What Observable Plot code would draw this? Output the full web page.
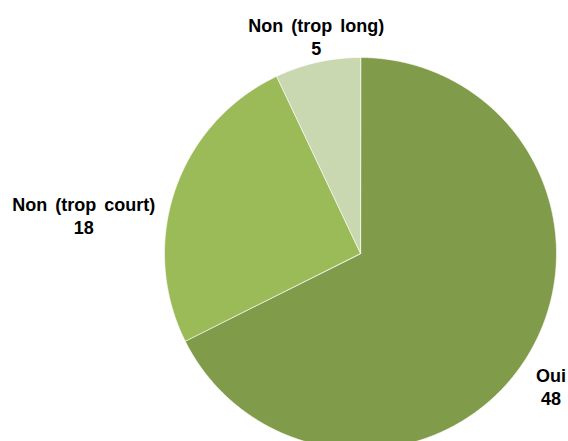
<!DOCTYPE html>
<html>
<head>
<meta charset="utf-8">
<script src="https://cdn.jsdelivr.net/npm/d3@7"></script>
<script src="https://cdn.jsdelivr.net/npm/@observablehq/plot@0.6"></script>
<style>
  html, body { margin: 0; padding: 0; background: #fff; }
  svg text { word-spacing: 3px; }
</style>
</head>
<body>
<div id="chart"></div>
<script>
// Data
const categories = ["Oui", "Non (trop court)", "Non (trop long)"];
const values = [48, 18, 5];
const colors = ["#809c4b", "#9bbb59", "#c9d8b0"];

// Layout (pixels)
const W = 568, H = 441;
const R = 196;            // pie radius in px
const CX = 360, CY = 253; // pie centre in px
const labelRadius = 1.1;  // label anchor at 1.1 × radius
const labelNudge = [[7, 19], [-73, 32], [3, -7]]; // px nudges per label

const rows = categories.map((c, i) => ({label: c, value: values[i]}));
const arcs = d3.pie().sort(null).value(d => d.value)(rows);

// Polygon points for each slice (radius = 1 unit)
const pts = [];
for (const a of arcs) {
  const n = Math.max(2, Math.ceil((a.endAngle - a.startAngle) / (Math.PI / 360)));
  pts.push({label: a.data.label, x: 0, y: 0});
  for (let k = 0; k <= n; k++) {
    const t = a.startAngle + (a.endAngle - a.startAngle) * k / n;
    pts.push({label: a.data.label, x: Math.sin(t), y: Math.cos(t)});
  }
}

const labels = arcs.map((a, i) => {
  const t = (a.startAngle + a.endAngle) / 2;
  return {
    x: labelRadius * Math.sin(t), y: labelRadius * Math.cos(t),
    text: `${a.data.label}\n${a.data.value}`,
    dx: labelNudge[i][0], dy: labelNudge[i][1]
  };
});

const chart = Plot.plot({
  width: W, height: H,
  margin: 0,
  x: {domain: [-CX / R, (W - CX) / R], range: [0, W], axis: null},
  y: {domain: [-(H - CY) / R, CY / R], range: [H, 0], axis: null},
  color: {domain: categories, range: colors},
  style: {fontFamily: "'Liberation Sans', Arial, sans-serif", background: "#fff"},
  marks: [
    Plot.line(pts, {x: "x", y: "y", z: "label", fill: "label", stroke: "#ffffff", strokeWidth: 0.8, strokeOpacity: 0.8, curve: "linear-closed"}),
    ...labels.map(l => Plot.text([l], {
      x: "x", y: "y", text: "text", dx: l.dx, dy: l.dy,
      fontSize: 18, fontWeight: "bold", fill: "#000", textAnchor: "middle",
      lineAnchor: "middle", lineHeight: 1.28
    }))
  ]
});
document.getElementById("chart").appendChild(chart);
</script>
</body>
</html>
